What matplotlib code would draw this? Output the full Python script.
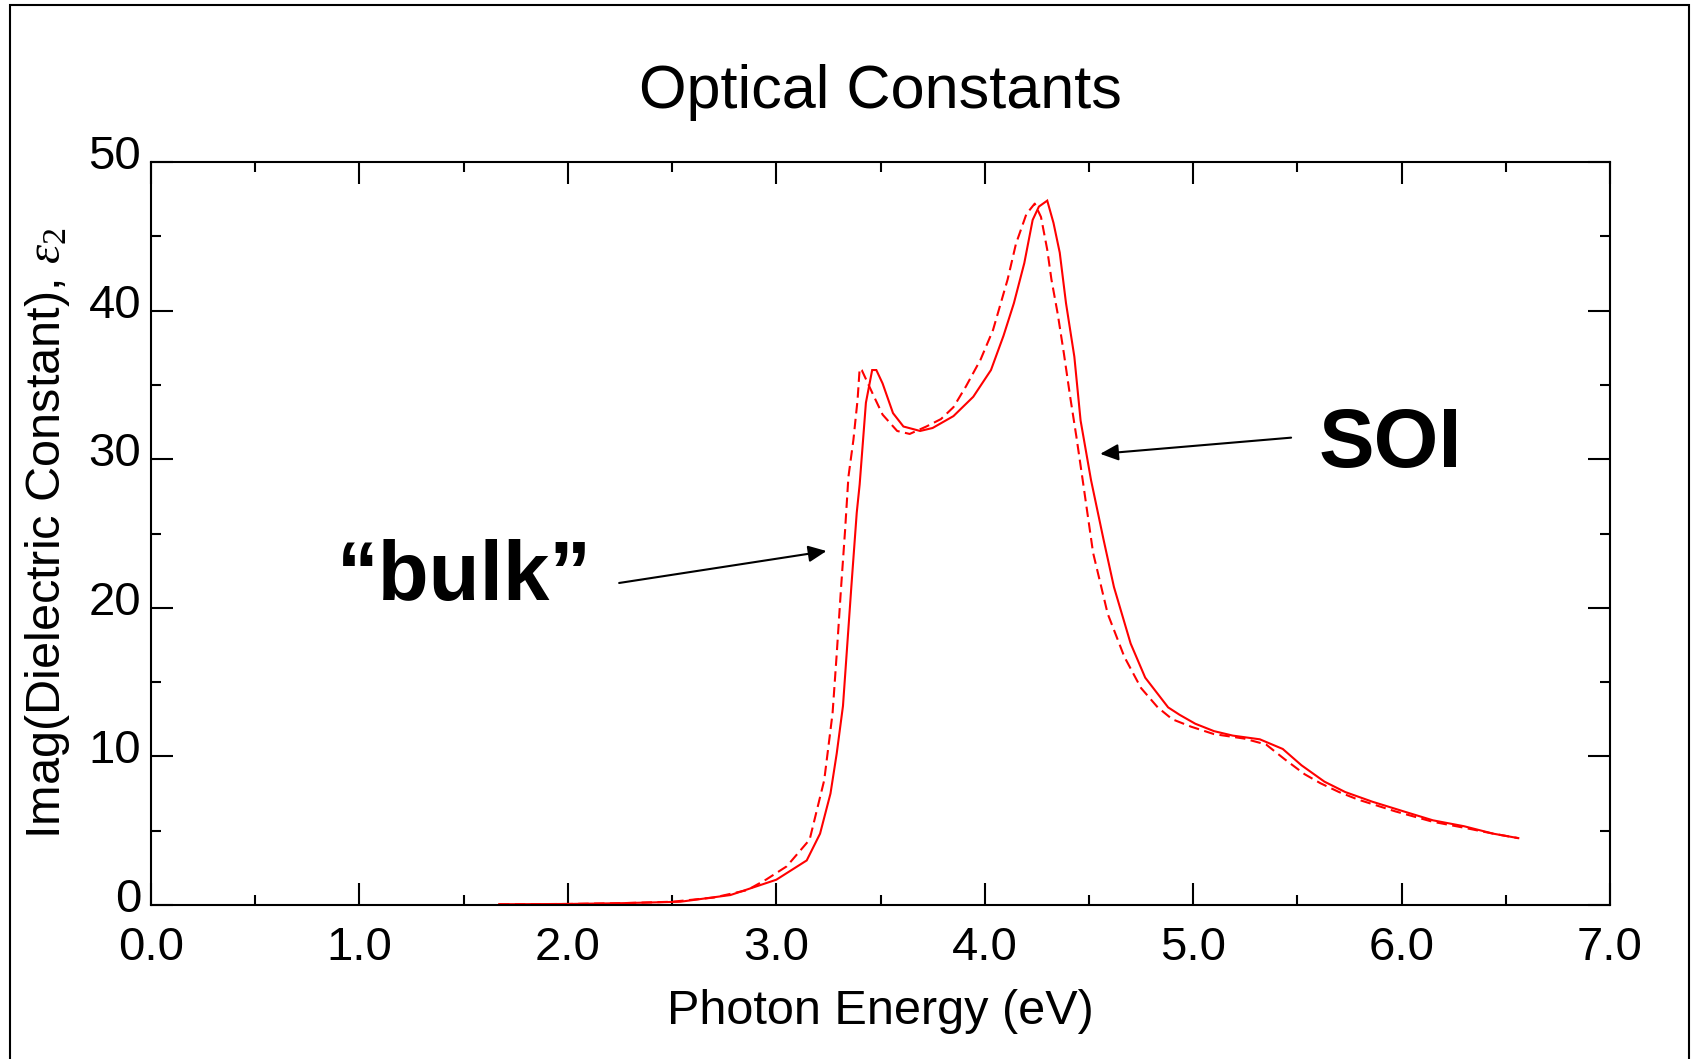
import matplotlib
matplotlib.use('Agg')
import matplotlib.pyplot as plt
from matplotlib.patches import Rectangle
from matplotlib.transforms import ScaledTranslation

plt.rcParams['font.family'] = ['Liberation Sans', 'DejaVu Sans']
plt.rcParams['mathtext.fontset'] = 'custom'
plt.rcParams['mathtext.rm'] = 'Liberation Serif'
plt.rcParams['mathtext.it'] = 'Liberation Serif:italic'

# SOI film (solid)
soi_energy = [1.67, 2.0, 2.25, 2.54, 2.78, 3.0, 3.146, 3.21, 3.26, 3.29, 3.32, 3.34,
              3.36, 3.386, 3.40, 3.43, 3.46, 3.48, 3.51, 3.56, 3.61, 3.69, 3.75, 3.85,
              3.945, 4.03, 4.09, 4.14, 4.19, 4.23, 4.26, 4.30, 4.33, 4.36, 4.39, 4.43,
              4.46, 4.51, 4.57, 4.62, 4.70, 4.77, 4.88, 4.935, 5.01, 5.10, 5.19, 5.32,
              5.43, 5.52, 5.63, 5.73, 5.86, 6.01, 6.15, 6.30, 6.44, 6.56]
soi_eps2 = [0.05, 0.07, 0.12, 0.22, 0.67, 1.7, 3.0, 4.8, 7.5, 10.2, 13.4, 17.4,
            21.4, 26.4, 28.3, 33.8, 36.0, 36.0, 35.1, 33.1, 32.2, 31.9, 32.1, 32.9,
            34.2, 36.0, 38.3, 40.5, 43.2, 46.1, 47.0, 47.4, 45.9, 43.9, 40.5, 36.9,
            32.6, 28.6, 24.6, 21.4, 17.6, 15.3, 13.3, 12.8, 12.2, 11.7, 11.4, 11.15,
            10.5, 9.4, 8.3, 7.6, 6.95, 6.3, 5.7, 5.3, 4.8, 4.5]

# bulk reference (dashed)
bulk_energy = [1.67, 2.0, 2.25, 2.5, 2.7, 2.86, 2.95, 3.05, 3.16, 3.23, 3.27, 3.29,
               3.31, 3.33, 3.346, 3.37, 3.39, 3.40, 3.41, 3.466, 3.51, 3.58, 3.64, 3.72,
               3.79, 3.85, 3.91, 3.98, 4.04, 4.11, 4.15, 4.20, 4.24, 4.27, 4.30, 4.32,
               4.35, 4.38, 4.41, 4.44, 4.47, 4.52, 4.59, 4.67, 4.75, 4.83, 4.90, 4.99,
               5.10, 5.245, 5.35, 5.44, 5.535, 5.61, 5.70, 5.79, 5.97, 6.15, 6.30, 6.44,
               6.56]
bulk_eps2 = [0.05, 0.07, 0.12, 0.22, 0.5, 1.0, 1.7, 2.6, 4.4, 8.4, 12.9, 16.9,
             21.2, 25.2, 28.8, 31.3, 34.0, 36.1, 36.0, 34.3, 33.0, 31.9, 31.7, 32.2,
             32.7, 33.5, 34.9, 36.7, 38.7, 42.1, 44.5, 46.5, 47.2, 46.3, 44.1, 42.1,
             39.8, 37.1, 34.2, 31.5, 28.6, 23.7, 19.6, 16.7, 14.6, 13.3, 12.5, 12.0,
             11.5, 11.2, 10.8, 9.8, 8.8, 8.2, 7.6, 7.1, 6.3, 5.6, 5.2, 4.8,
             4.5]

x_ticks = [0, 1, 2, 3, 4, 5, 6, 7]
y_ticks = [0, 10, 20, 30, 40, 50]

fig = plt.figure(figsize=(16.94, 10.59), dpi=100)
ax = fig.add_axes([151 / 1694, 1 - 905 / 1059, 1459 / 1694, 743 / 1059])

red = '#ff0000'
ax.plot(soi_energy, soi_eps2, color=red, lw=1.5, solid_joinstyle='miter')
ax.plot(bulk_energy, bulk_eps2, color=red, lw=1.5, linestyle=(0, (5, 2.6)))

ax.set_xlim(0, 7)
ax.set_ylim(0, 50)
ax.set_xticks(x_ticks)
ax.set_xticklabels([f'{v:.1f}' for v in x_ticks])
ax.set_yticks(y_ticks)
ax.set_xticks([v + 0.5 for v in x_ticks[:-1]], minor=True)
ax.set_yticks([v + 5 for v in y_ticks[:-1]], minor=True)

ax.tick_params(which='both', direction='in', top=True, right=True, width=1.5, color='black')
ax.tick_params(which='major', length=16)
ax.tick_params(which='minor', length=7)
ax.tick_params(axis='x', which='major', pad=15, labelsize=34)
ax.tick_params(axis='y', which='major', pad=7, labelsize=34)
for s in ax.spines.values():
    s.set_linewidth(1.5)

# y labels sit a little above their ticks
shift = ScaledTranslation(0, 10 / 100, fig.dpi_scale_trans)
for lab in ax.get_yticklabels():
    lab.set_transform(lab.get_transform() + shift)

ax.set_xlabel('Photon Energy (eV)', fontsize=35, labelpad=14)
ax.set_ylabel(r'Imag(Dielectric Constant), $\varepsilon_2$', fontsize=35, labelpad=12)
ax.set_title('Optical Constants', fontsize=44, pad=39)

arrow = dict(arrowstyle='-|>,head_length=0.55,head_width=0.25', color='black',
             lw=1.5, shrinkA=0, shrinkB=0, mutation_scale=20)
ax.annotate('', xy=(3.241, 23.82), xytext=(2.246, 21.67), arrowprops=arrow)
ax.annotate('', xy=(4.554, 30.36), xytext=(5.47, 31.45), arrowprops=arrow)

ax.text(0.8925, 20.5, '\u201cbulk\u201d', fontsize=60, fontweight='bold', va='baseline', ha='left')
ax.text(5.60, 29.47, 'SOI', fontsize=60, fontweight='bold', va='baseline', ha='left')

# outer frame around the whole graphic
fig.patches.append(Rectangle((10 / 1694, -0.02), 1679 / 1694, 1 - 5 / 1059 + 0.02,
                             transform=fig.transFigure, fill=False,
                             edgecolor='black', lw=1.5, clip_on=False))

fig.savefig('out.png', dpi=100)
